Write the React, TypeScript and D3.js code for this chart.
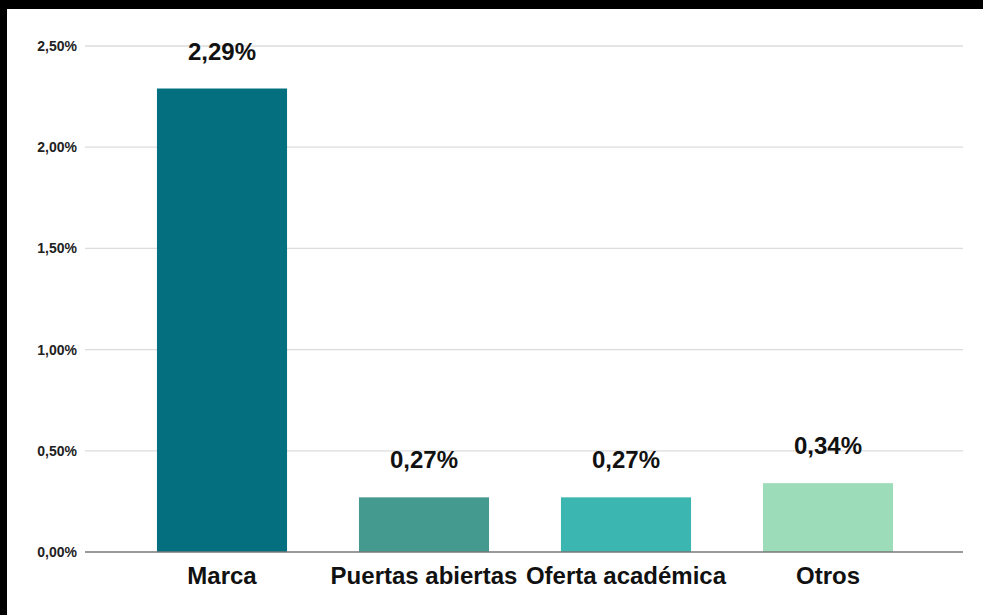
import React from "react";
import * as d3 from "d3";

const categories = ["Marca", "Puertas abiertas", "Oferta académica", "Otros"];
const values = [2.29, 0.27, 0.27, 0.34];
const barColors = ["#04707f", "#449a8f", "#3cb6b1", "#9cdcb8"];
const yTicks = [0, 0.5, 1.0, 1.5, 2.0, 2.5];

const W = 983;
const H = 615;

const fmt = (v: number) => v.toFixed(2).replace(".", ",") + "%";

export default function App() {
  const x = d3
    .scaleBand<string>()
    .domain(categories)
    .range([121, 929])
    .paddingInner(0.356)
    .paddingOuter(0.178);
  const y = d3.scaleLinear().domain([0, 2.5]).range([552, 46]);
  const font = "'Liberation Sans', Arial, Helvetica, sans-serif";

  return (
    <svg
      width={W}
      height={H}
      style={{ position: "absolute", left: 0, top: 0, background: "#fff" }}
      fontFamily={font}
    >
      <rect x={0} y={0} width={W} height={H} fill="#fff" />
      <rect x={0} y={0} width={W} height={9} fill="#000" />
      <rect x={0} y={0} width={7} height={H} fill="#000" />
      {yTicks.map((t) => (
        <g key={t}>
          {t > 0 && (
            <line x1={85} x2={963} y1={y(t)} y2={y(t)} stroke="#dcdcdc" strokeWidth={1.3} />
          )}
          <text
            x={77}
            y={y(t)}
            dy="0.36em"
            textAnchor="end"
            fontSize={14}
            fontWeight="bold"
            fill="#222"
          >
            {fmt(t)}
          </text>
        </g>
      ))}
      {categories.map((c, i) => (
        <g key={c}>
          <rect
            x={x(c)!}
            y={y(values[i])}
            width={x.bandwidth()}
            height={y(0) - y(values[i])}
            fill={barColors[i]}
          />
          <text
            x={x(c)! + x.bandwidth() / 2}
            y={y(values[i]) - 29}
            textAnchor="middle"
            fontSize={24}
            fontWeight="bold"
            fill="#111"
          >
            {fmt(values[i])}
          </text>
          <text
            x={x(c)! + x.bandwidth() / 2}
            y={584}
            textAnchor="middle"
            fontSize={24}
            fontWeight="bold"
            fill="#111"
          >
            {c}
          </text>
        </g>
      ))}
      <line x1={85} x2={963} y1={y(0)} y2={y(0)} stroke="#777" strokeWidth={1.5} />
    </svg>
  );
}
